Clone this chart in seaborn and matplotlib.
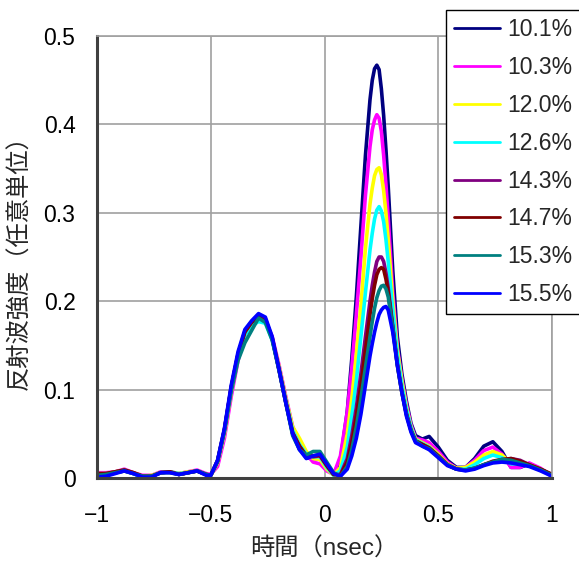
import seaborn as sns
import pandas as pd
import matplotlib.pyplot as plt
from matplotlib.ticker import FuncFormatter

# 時間軸 (nsec)
time_ns = [-1.00, -0.96, -0.92, -0.88, -0.84, -0.80, -0.76, -0.72, -0.68, -0.64, -0.60, -0.56, -0.52,
           -0.50, -0.47, -0.44, -0.41, -0.38, -0.35, -0.32, -0.29, -0.26, -0.23, -0.20, -0.17, -0.14,
           -0.11, -0.08, -0.05, -0.02,
           0.01, 0.04, 0.07, 0.10, 0.12, 0.14, 0.16, 0.18, 0.20, 0.21, 0.22, 0.23, 0.24, 0.25, 0.26,
           0.27, 0.28, 0.30, 0.32, 0.34, 0.36, 0.38, 0.40,
           0.43, 0.46, 0.50, 0.54, 0.58, 0.62, 0.66, 0.70, 0.74, 0.78, 0.82, 0.86, 0.90, 0.95, 1.00]

# 含水率ごとの反射波強度
r_101 = [0.002, 0.003, 0.006, 0.008, 0.005, 0.001, 0.002, 0.006, 0.007, 0.004, 0.006, 0.008, 0.004,
         0.003, 0.020, 0.055, 0.103, 0.140, 0.165, 0.176, 0.184, 0.180, 0.158, 0.122, 0.085, 0.050,
         0.033, 0.023, 0.022, 0.022,
         0.013, 0.004, 0.020, 0.075, 0.135, 0.205, 0.285, 0.365, 0.428, 0.450, 0.463, 0.467, 0.462,
         0.440, 0.410, 0.372, 0.330, 0.235, 0.160, 0.118, 0.087, 0.062, 0.048,
         0.044, 0.047, 0.035, 0.020, 0.012, 0.012, 0.022, 0.036, 0.041, 0.030, 0.012, 0.012, 0.016,
         0.010, 0.002]
r_103 = [0.006, 0.006, 0.007, 0.010, 0.006, 0.003, 0.003, 0.007, 0.007, 0.005, 0.007, 0.009, 0.005,
         0.004, 0.013, 0.045, 0.092, 0.133, 0.162, 0.175, 0.180, 0.178, 0.160, 0.128, 0.092, 0.058,
         0.040, 0.027, 0.018, 0.016,
         0.008, 0.004, 0.025, 0.075, 0.125, 0.185, 0.250, 0.320, 0.375, 0.394, 0.405, 0.411, 0.407,
         0.392, 0.365, 0.332, 0.295, 0.210, 0.148, 0.112, 0.083, 0.060, 0.045,
         0.043, 0.040, 0.030, 0.018, 0.011, 0.012, 0.020, 0.031, 0.035, 0.027, 0.012, 0.012, 0.017,
         0.011, 0.002]
r_120 = [0.005, 0.005, 0.007, 0.009, 0.006, 0.002, 0.003, 0.006, 0.007, 0.005, 0.007, 0.008, 0.004,
         0.003, 0.017, 0.050, 0.097, 0.137, 0.163, 0.175, 0.180, 0.177, 0.158, 0.126, 0.090, 0.058,
         0.045, 0.030, 0.022, 0.021,
         0.010, 0.003, 0.012, 0.050, 0.090, 0.140, 0.195, 0.260, 0.310, 0.328, 0.342, 0.349, 0.351,
         0.343, 0.325, 0.300, 0.270, 0.200, 0.145, 0.110, 0.080, 0.058, 0.044,
         0.040, 0.036, 0.027, 0.016, 0.011, 0.012, 0.018, 0.026, 0.030, 0.026, 0.017, 0.016, 0.015,
         0.010, 0.003]
r_126 = [0.004, 0.004, 0.006, 0.009, 0.005, 0.001, 0.002, 0.006, 0.007, 0.005, 0.006, 0.008, 0.004,
         0.003, 0.018, 0.052, 0.100, 0.138, 0.162, 0.172, 0.177, 0.175, 0.156, 0.124, 0.088, 0.054,
         0.038, 0.027, 0.024, 0.024,
         0.012, 0.003, 0.008, 0.035, 0.070, 0.110, 0.160, 0.210, 0.258, 0.277, 0.293, 0.303, 0.307,
         0.302, 0.290, 0.270, 0.245, 0.190, 0.140, 0.105, 0.078, 0.057, 0.043,
         0.039, 0.035, 0.025, 0.015, 0.010, 0.010, 0.015, 0.022, 0.026, 0.023, 0.016, 0.016, 0.014,
         0.009, 0.003]
r_143 = [0.004, 0.005, 0.007, 0.009, 0.006, 0.002, 0.002, 0.006, 0.007, 0.004, 0.006, 0.008, 0.004,
         0.003, 0.019, 0.054, 0.102, 0.140, 0.166, 0.177, 0.183, 0.179, 0.158, 0.123, 0.086, 0.051,
         0.036, 0.025, 0.024, 0.025,
         0.014, 0.004, 0.004, 0.022, 0.048, 0.080, 0.118, 0.160, 0.200, 0.218, 0.233, 0.245, 0.250,
         0.250, 0.245, 0.232, 0.215, 0.172, 0.130, 0.098, 0.073, 0.054, 0.042,
         0.038, 0.034, 0.025, 0.015, 0.010, 0.009, 0.011, 0.015, 0.018, 0.020, 0.022, 0.020, 0.015,
         0.010, 0.004]
r_147 = [0.005, 0.005, 0.007, 0.009, 0.006, 0.002, 0.002, 0.006, 0.007, 0.004, 0.006, 0.008, 0.004,
         0.003, 0.019, 0.054, 0.102, 0.140, 0.165, 0.176, 0.182, 0.178, 0.158, 0.123, 0.086, 0.051,
         0.036, 0.025, 0.025, 0.026,
         0.014, 0.004, 0.003, 0.018, 0.040, 0.070, 0.105, 0.145, 0.185, 0.203, 0.218, 0.230, 0.236,
         0.238, 0.236, 0.225, 0.210, 0.170, 0.128, 0.097, 0.072, 0.054, 0.042,
         0.038, 0.034, 0.025, 0.015, 0.010, 0.009, 0.011, 0.015, 0.019, 0.021, 0.022, 0.019, 0.015,
         0.010, 0.004]
r_153 = [0.003, 0.004, 0.006, 0.008, 0.005, 0.002, 0.002, 0.006, 0.006, 0.004, 0.006, 0.008, 0.004,
         0.003, 0.019, 0.053, 0.098, 0.133, 0.153, 0.167, 0.181, 0.176, 0.156, 0.122, 0.085, 0.048,
         0.032, 0.026, 0.030, 0.030,
         0.018, 0.006, 0.002, 0.013, 0.032, 0.058, 0.090, 0.125, 0.160, 0.177, 0.192, 0.204, 0.212,
         0.217, 0.218, 0.214, 0.205, 0.170, 0.128, 0.097, 0.072, 0.054, 0.042,
         0.036, 0.033, 0.024, 0.015, 0.010, 0.009, 0.011, 0.015, 0.018, 0.021, 0.020, 0.017, 0.014,
         0.009, 0.003]
r_155 = [0.001, 0.002, 0.005, 0.008, 0.005, 0.001, 0.001, 0.006, 0.006, 0.004, 0.006, 0.008, 0.003,
         0.003, 0.020, 0.056, 0.105, 0.143, 0.168, 0.178, 0.186, 0.182, 0.160, 0.123, 0.085, 0.050,
         0.032, 0.022, 0.025, 0.027,
         0.016, 0.005, 0.002, 0.010, 0.025, 0.045, 0.072, 0.105, 0.138, 0.152, 0.165, 0.176, 0.185,
         0.190, 0.193, 0.194, 0.190, 0.165, 0.128, 0.097, 0.070, 0.052, 0.040,
         0.036, 0.032, 0.023, 0.014, 0.010, 0.008, 0.010, 0.014, 0.017, 0.018, 0.017, 0.015, 0.013,
         0.008, 0.002]

labels = ['10.1%', '10.3%', '12.0%', '12.6%', '14.3%', '14.7%', '15.3%', '15.5%']
series = [r_101, r_103, r_120, r_126, r_143, r_147, r_153, r_155]
colors = ['#000080', '#FF00FF', '#FFFF00', '#00FFFF', '#800080', '#800000', '#008080', '#0000FF']

rows = []
for lab, vals in zip(labels, series):
    for t, v in zip(time_ns, vals):
        rows.append({'time': t, 'val': v, 'moist': lab})
df = pd.DataFrame(rows)

sns.set_theme(style='white')
plt.rcParams['font.family'] = ['Liberation Sans', 'Noto Sans CJK JP', 'DejaVu Sans']
plt.rcParams['axes.unicode_minus'] = True

fig = plt.figure(figsize=(5.79, 5.63), dpi=100)
ax = fig.add_axes([97 / 579, 1 - 478 / 563, 455 / 579, 442 / 563])

sns.lineplot(data=df, x='time', y='val', hue='moist', hue_order=labels,
             palette=dict(zip(labels, colors)), sort=False, estimator=None,
             linewidth=2.6, ax=ax)
for ln in ax.get_lines():
    ln.set_solid_joinstyle('round')
    ln.set_solid_capstyle('round')

ax.set_xlim(-1, 1)
ax.set_ylim(0, 0.5)
ax.set_xticks([-1, -0.5, 0, 0.5, 1])
ax.set_yticks([0, 0.1, 0.2, 0.3, 0.4, 0.5])
fmt = FuncFormatter(lambda v, p: f'{v:g}'.replace('-', '\u2212'))
ax.xaxis.set_major_formatter(fmt)
ax.yaxis.set_major_formatter(fmt)
ax.grid(True, color='#a0a0a0', linewidth=1.2)
ax.tick_params(axis='both', direction='in', length=6, width=1.2, color='#333333',
               labelsize=16.5, colors='black')
ax.tick_params(axis='x', pad=19)
ax.tick_params(axis='y', pad=15.5)

for side in ['left', 'bottom']:
    ax.spines[side].set_color('#404040')
    ax.spines[side].set_linewidth(2.2)
for side in ['top', 'right']:
    ax.spines[side].set_color('#a0a0a0')
    ax.spines[side].set_linewidth(1.2)

ax.set_xlabel('時間（nsec）', fontsize=17.5, labelpad=7)
ax.set_ylabel('反射波強度（任意単位）', fontsize=17.5, labelpad=9)

leg = ax.legend(loc='upper right', bbox_to_anchor=(580 / 579, 1 - 10 / 563),
                bbox_transform=fig.transFigure, borderaxespad=0, fontsize=16.5,
                handlelength=2.0, handletextpad=0.3, labelspacing=0.65,
                borderpad=0.35, frameon=True, fancybox=False, framealpha=1)
leg.get_frame().set_edgecolor('black')
leg.get_frame().set_linewidth(1.0)
for h in leg.get_lines():
    h.set_linewidth(2.0)

fig.savefig('out.png', dpi=100)
